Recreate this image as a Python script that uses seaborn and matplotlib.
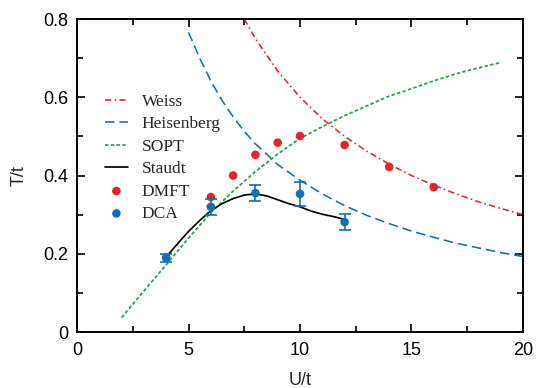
import matplotlib
matplotlib.use("Agg")
import matplotlib.pyplot as plt
import seaborn as sns
import pandas as pd
from matplotlib.ticker import MultipleLocator, FuncFormatter

# ---- data ----
weiss_u = [7.5, 8, 9, 10, 11, 12, 13, 14, 15, 16, 17, 18, 19, 20]
weiss_t = [0.800, 0.750, 0.667, 0.600, 0.545, 0.500, 0.462, 0.429, 0.400, 0.375, 0.353, 0.333, 0.316, 0.300]

heis_u = [5, 5.5, 6, 6.5, 7, 7.5, 8, 9, 10, 11, 12, 13, 14, 15, 16, 17, 18, 19, 20]
heis_t = [0.766, 0.700, 0.642, 0.592, 0.550, 0.513, 0.481, 0.428, 0.388, 0.353, 0.323, 0.298,
          0.277, 0.258, 0.242, 0.227, 0.215, 0.203, 0.193]

sopt_u = [2, 3, 4, 5, 6, 7, 8, 9, 10, 11, 12, 13, 14, 15, 16, 17, 18, 19]
sopt_t = [0.037, 0.105, 0.172, 0.240, 0.305, 0.360, 0.410, 0.455, 0.495, 0.525, 0.553, 0.578,
          0.603, 0.622, 0.642, 0.660, 0.675, 0.689]

staudt_u = [4, 4.5, 5, 5.5, 6, 6.5, 7, 7.5, 8, 8.5, 9, 9.5, 10, 10.5, 11, 11.5, 12]
staudt_t = [0.192, 0.225, 0.257, 0.285, 0.310, 0.328, 0.341, 0.350, 0.353, 0.348, 0.338, 0.328,
            0.320, 0.309, 0.301, 0.295, 0.288]

dmft_u = [4, 6, 7, 8, 9, 10, 12, 14, 16]
dmft_t = [0.190, 0.345, 0.400, 0.453, 0.484, 0.501, 0.478, 0.422, 0.370]

dca_u = [4, 6, 8, 10, 12]
dca_t = [0.190, 0.320, 0.355, 0.353, 0.281]
dca_err = [0.010, 0.020, 0.020, 0.030, 0.020]

RED = "#e0262a"
BLUE = "#0f6fb5"
GREEN = "#1aa640"

sns.set_style("ticks")
plt.rcParams["font.family"] = ["Liberation Sans", "DejaVu Sans"]

fig, ax = plt.subplots(figsize=(5.36, 3.88), dpi=100)
fig.subplots_adjust(left=0.1437, right=0.9757, top=0.951, bottom=0.1443)

sns.lineplot(data=pd.DataFrame({"U": weiss_u, "T": weiss_t}), x="U", y="T", ax=ax,
             color=RED, lw=1.15, sort=False, estimator=None, label="Weiss")
ax.lines[-1].set_dashes((4, 2, 1, 2))
sns.lineplot(data=pd.DataFrame({"U": heis_u, "T": heis_t}), x="U", y="T", ax=ax,
             color=BLUE, lw=1.15, sort=False, estimator=None, label="Heisenberg")
ax.lines[-1].set_dashes((6, 3))
sns.lineplot(data=pd.DataFrame({"U": sopt_u, "T": sopt_t}), x="U", y="T", ax=ax,
             color=GREEN, lw=1.25, sort=False, estimator=None, label="SOPT")
ax.lines[-1].set_dashes((2, 1.3))
sns.lineplot(data=pd.DataFrame({"U": staudt_u, "T": staudt_t}), x="U", y="T", ax=ax,
             color="black", lw=1.25, sort=False, estimator=None, label="Staudt")

sns.scatterplot(x=dmft_u, y=dmft_t, ax=ax, color=RED, s=38, edgecolor="none",
                label="DMFT", zorder=3)
ax.errorbar(dca_u, dca_t, yerr=dca_err, fmt="none", ecolor=BLUE, elinewidth=1.2,
            capsize=4, capthick=1.2, zorder=4)
sns.scatterplot(x=dca_u, y=dca_t, ax=ax, color=BLUE, s=38, edgecolor="none",
                label="DCA", zorder=5)

ax.set_xlim(0, 20)
ax.set_ylim(0, 0.8)
ax.xaxis.set_major_locator(MultipleLocator(5))
ax.xaxis.set_minor_locator(MultipleLocator(2.5))
ax.yaxis.set_major_locator(MultipleLocator(0.2))
ax.yaxis.set_minor_locator(MultipleLocator(0.1))
ax.yaxis.set_major_formatter(FuncFormatter(lambda v, p: "0" if abs(v) < 1e-9 else f"{v:.1f}"))
ax.tick_params(which="both", direction="in", top=True, right=True, width=1.2,
               labelsize=13, colors="black")
ax.tick_params(axis="x", which="major", pad=7.5)
ax.tick_params(axis="y", which="major", pad=6.5)
ax.tick_params(which="major", length=6)
ax.tick_params(which="minor", length=4)
for sp in ax.spines.values():
    sp.set_visible(True)
    sp.set_linewidth(1.4)
    sp.set_color("black")

ax.set_xlabel("U/t", fontsize=13, labelpad=9)
ax.set_ylabel("T/t", fontsize=13, labelpad=11)

leg = ax.legend(loc="upper left", bbox_to_anchor=(0.063, 0.761), frameon=False,
                prop={"family": "Liberation Serif", "size": 12.5},
                handlelength=1.3, handletextpad=0.8, labelspacing=0.36,
                borderpad=0, borderaxespad=0, markerscale=1.0)

fig.savefig("out.png", dpi=100)
